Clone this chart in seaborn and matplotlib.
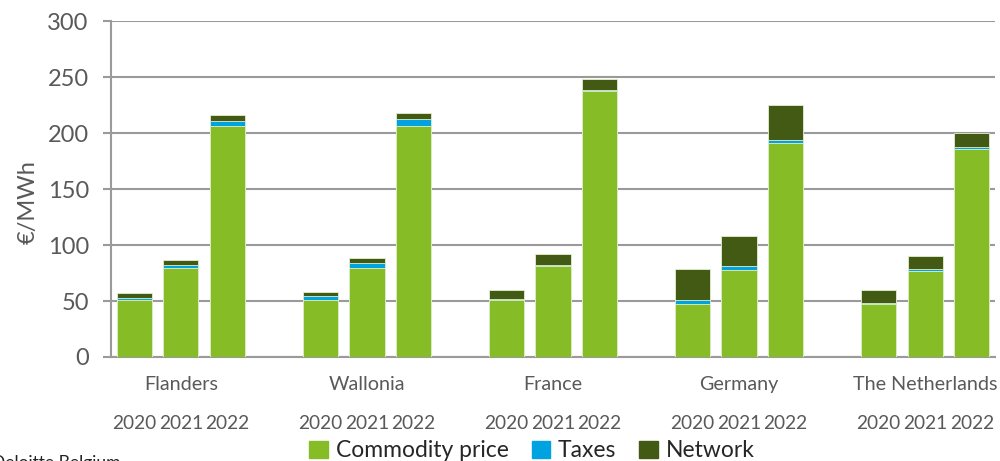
import matplotlib
matplotlib.use("Agg")
import matplotlib.pyplot as plt
import matplotlib.patches as mpatches
import seaborn as sns
import pandas as pd
import numpy as np

# Data (EUR/MWh)
countries = ["Flanders", "Wallonia", "France", "Germany", "The Netherlands"]
years = ["2020", "2021", "2022"]
commodity = [50.7, 79.4, 206.6,
             50.7, 79.4, 206.6,
             50.7, 80.9, 237.5,
             47.1, 77.6, 191.0,
             47.1, 77.0, 185.7]
taxes = [2.3, 3.0, 4.3,
         3.8, 4.8, 5.8,
         0.8, 1.2, 1.2,
         3.6, 3.6, 3.0,
         1.4, 1.8, 1.5]
network = [4.0, 4.5, 5.4,
           3.9, 4.2, 5.4,
           8.7, 9.5, 9.8,
           27.8, 27.2, 31.0,
           11.2, 11.0, 12.6]

c_green = "#86BC25"
c_blue = "#00A3E0"
c_dark = "#435A14"
txt_grey = "#595959"

rows = []
for gi, country in enumerate(countries):
    for yi, year in enumerate(years):
        i = gi * len(years) + yi
        rows.append({"country": country, "year": year,
                     "pos": gi * (len(years) + 1) + yi,
                     "commodity": commodity[i], "taxes": taxes[i], "network": network[i]})
df = pd.DataFrame(rows)
df["with_taxes"] = df["commodity"] + df["taxes"]
df["total"] = df["with_taxes"] + df["network"]

sns.set_theme(style="white")
plt.rcParams["font.family"] = ["Lato", "DejaVu Sans"]

fig = plt.figure(figsize=(10, 4.61), dpi=100)
ax = fig.add_axes([0.111, 0.2256, 0.884, 0.7284])

# stacked bars: draw cumulative totals from top layer down
for col, color in [("total", c_dark), ("with_taxes", c_blue), ("commodity", c_green)]:
    sns.barplot(data=df, x="pos", y=col, native_scale=True, width=0.76,
                color=color, saturation=1, errorbar=None,
                edgecolor="#e4f0cf", linewidth=0.6, ax=ax, zorder=3)

ax.set_xlim(-0.5, df["pos"].max() + 0.5)
ax.set_ylim(0, 300)
ax.set_yticks(np.arange(0, 301, 50))
ax.yaxis.grid(True, color="#9a9a9a", linewidth=1.5, zorder=0)
ax.set_axisbelow(True)

for s in ["top", "right"]:
    ax.spines[s].set_visible(False)
for s in ["left", "bottom"]:
    ax.spines[s].set_color("#9a9a9a")
    ax.spines[s].set_linewidth(1.5)

ax.tick_params(axis="y", length=6, width=1.5, color="#9a9a9a", labelsize=17,
               labelcolor=txt_grey, pad=10, left=True)
ax.set_xticks(df["pos"])
ax.set_xticklabels(df["year"])
ax.tick_params(axis="x", length=0, labelsize=13.8, labelcolor=txt_grey, pad=42)

ax.set_xlabel("")
ax.set_ylabel("€/MWh", fontsize=17, color=txt_grey)
ax.yaxis.set_label_coords(-0.082, 0.46)

# country labels under the middle bar of each group
trans = ax.get_xaxis_transform()
for gi, country in enumerate(countries):
    mid = df.loc[df["country"] == country, "pos"].mean()
    ax.text(mid, -0.083, country, transform=trans, ha="center", va="center",
            fontsize=14.2, color=txt_grey)

handles = [mpatches.Patch(color=c_green, label="Commodity price"),
           mpatches.Patch(color=c_blue, label="Taxes"),
           mpatches.Patch(color=c_dark, label="Network")]
fig.legend(handles=handles, loc="center", bbox_to_anchor=(0.532, 0.022), ncol=3,
           frameon=False, fontsize=16.5, handlelength=0.8, handleheight=0.8,
           handletextpad=0.35, columnspacing=1.0, borderpad=0)

fig.text(0.121, 0.013, "Deloitte Belgium", ha="right", va="top",
         fontsize=12.5, color="#222222")

fig.savefig("out.png", dpi=100)
